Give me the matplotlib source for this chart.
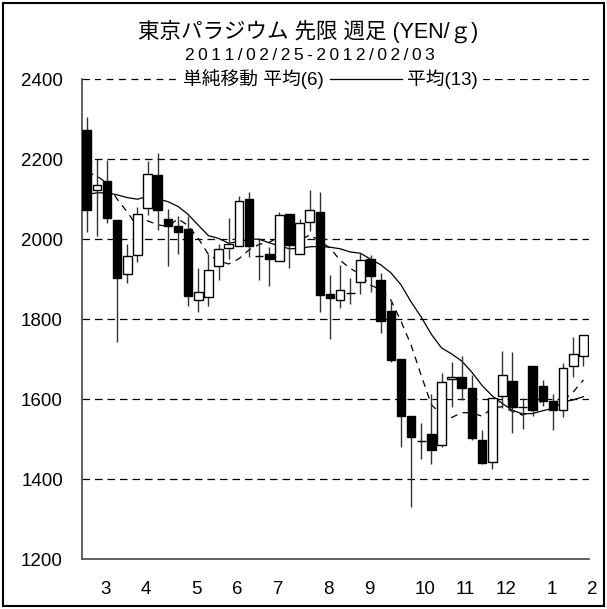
"""Weekly palladium candlestick chart (Tokyo, front month) with 6/13-week SMAs."""
import matplotlib
matplotlib.use("Agg")
import matplotlib.pyplot as plt
import numpy as np
from matplotlib.patches import Rectangle

# weekly OHLC, 2011/02/25 .. 2012/02/03 (YEN/g)
opens = [2272, 2122, 2146, 2047, 1914, 1960, 2077, 2160, 2051, 2032,
         2026, 1848, 1855, 1933, 1977, 1982, 2100, 1957, 1962, 1946,
         2063, 1963, 2043, 2067, 1862, 1848, 1865, 1894, 1951, 1898,
         1821, 1701, 1558, 1494, 1513, 1484, 1650, 1655, 1629, 1498,
         1442, 1607, 1646, 1580, 1682, 1634, 1594, 1572, 1683, 1708]
highs = [2306, 2200, 2198, 2047, 1988, 2080, 2196, 2215, 2076, 2057,
         2058, 1927, 1963, 1988, 2052, 2109, 2117, 2003, 1980, 2067,
         2063, 2050, 2122, 2117, 1911, 1936, 1902, 1965, 1961, 1915,
         1848, 1701, 1558, 1540, 1612, 1665, 1692, 1707, 1661, 1523,
         1602, 1721, 1718, 1602, 1682, 1647, 1613, 1690, 1755, 1761]
lows = [2017, 2007, 2040, 1742, 1890, 1942, 2061, 2023, 1934, 1964,
        1832, 1819, 1832, 1898, 1950, 1982, 1956, 1898, 1883, 1946,
        1927, 1963, 2020, 1817, 1750, 1827, 1838, 1863, 1869, 1765,
        1692, 1480, 1330, 1450, 1438, 1479, 1579, 1598, 1498, 1438,
        1425, 1578, 1515, 1526, 1557, 1582, 1522, 1554, 1655, 1682]
closes = [2073, 2135, 2054, 1903, 1958, 2062, 2164, 2073, 2032, 2017,
          1857, 1869, 1923, 1975, 1988, 2096, 1984, 1957, 1950, 2060,
          1985, 2040, 2072, 1861, 1852, 1872, 1865, 1948, 1909, 1796,
          1697, 1557, 1504, 1494, 1472, 1642, 1655, 1629, 1502, 1440,
          1602, 1660, 1579, 1580, 1572, 1594, 1572, 1677, 1713, 1761]
ma6 = [2168, 2158, 2140, 2100, 2068, 2031, 2046, 2036, 2032, 2051,
       2034, 2002, 1962, 1946, 1938, 1951, 1973, 1987, 1992, 2006,
       2005, 1996, 2011, 1995, 1978, 1947, 1927, 1912, 1885, 1874,
       1848, 1795, 1735, 1659, 1586, 1561, 1554, 1566, 1566, 1557,
       1578, 1581, 1569, 1560, 1572, 1598, 1593, 1596, 1618, 1648]
ma13 = [2112, 2116, 2116, 2111, 2104, 2100, 2107, 2101, 2094, 2082,
        2062, 2035, 2009, 2002, 1990, 1994, 2000, 2000, 1991, 1983,
        1976, 1977, 1981, 1982, 1980, 1976, 1968, 1965, 1950, 1936,
        1916, 1886, 1843, 1805, 1762, 1728, 1713, 1695, 1667, 1634,
        1608, 1589, 1572, 1563, 1564, 1571, 1577, 1593, 1598, 1606]
# first week of each month (index into the weekly series) and its label
month_start = [1, 5, 10, 14, 18, 23, 27, 32, 36, 40, 45, 49]
month_labels = ["3", "4", "5", "6", "7", "8", "9", "10", "11", "12", "1", "2"]
y_ticks = [1200, 1400, 1600, 1800, 2000, 2200, 2400]

TITLE = "東京パラジウム 先限 週足 (YEN/ｇ)"
PERIOD = "2011/02/25-2012/02/03"

plt.rcParams["font.family"] = ["Liberation Sans", "Noto Sans CJK JP",
                               "DejaVu Sans"]

W, H = 607, 609
fig = plt.figure(figsize=(W / 100, H / 100), dpi=100)
ax = fig.add_axes([81.7 / W, 50 / H, (588.5 - 81.7) / W, (559 - 79.3) / H])

x = np.arange(len(closes))
o = np.asarray(opens, float)
c = np.asarray(closes, float)

for y in y_ticks[1:]:
    ax.axhline(y, color="black", lw=0.9, dashes=(6, 4), zorder=0)

ax.plot(x, ma6, color="black", lw=0.9, dashes=(5.5, 4.5), zorder=2,
        label="単純移動 平均(6)")
ax.plot(x, ma13, color="black", lw=0.9, zorder=2, label="平均(13)")

# candles: wick behind, body on top (white = close above open)
ax.vlines(x, lows, highs, color="#333333", lw=1.0, zorder=3)
ax.bar(x, np.abs(c - o), bottom=np.minimum(o, c), width=0.85,
       color=np.where(c > o, "white", "black"), edgecolor="black",
       linewidth=1.0, zorder=4)

ax.set_xlim(-0.5, 49.5)
ax.set_ylim(1200, 2400)
ax.set_yticks(y_ticks)
ax.set_yticklabels([str(v) for v in y_ticks], fontsize=13.5)
ax.set_xticks(np.array(month_start) + 0.35)
ax.set_xticklabels(month_labels, fontsize=13.5, ha="left")
ax.tick_params(axis="y", length=0, pad=13.5)
ax.tick_params(axis="x", length=0, pad=16)
for s in ("top", "right"):
    ax.spines[s].set_visible(False)
for s in ("left", "bottom"):
    ax.spines[s].set_color("#555555")
    ax.spines[s].set_linewidth(1.3)

leg = ax.legend(loc="center", bbox_to_anchor=(0.415, 1.0), ncol=2,
                frameon=True, fancybox=False, edgecolor="none",
                facecolor="white", framealpha=1, fontsize=13.5,
                handlelength=3.8, handletextpad=0.3, columnspacing=0.35,
                borderpad=0.25, borderaxespad=0)
leg.set_zorder(10)

fig.text(308 / W, 1 - 31 / H, TITLE, ha="center", va="center", fontsize=15.5)
fig.text(310 / W, 1 - 55.5 / H, "\u2009".join(PERIOD), ha="center",
         va="center", fontsize=12.5)

fig.add_artist(Rectangle((3 / W, 3 / H), (W - 6) / W, (H - 6) / H,
                         transform=fig.transFigure, fill=False,
                         ec="black", lw=1.5))

fig.savefig("out.png", dpi=100)
